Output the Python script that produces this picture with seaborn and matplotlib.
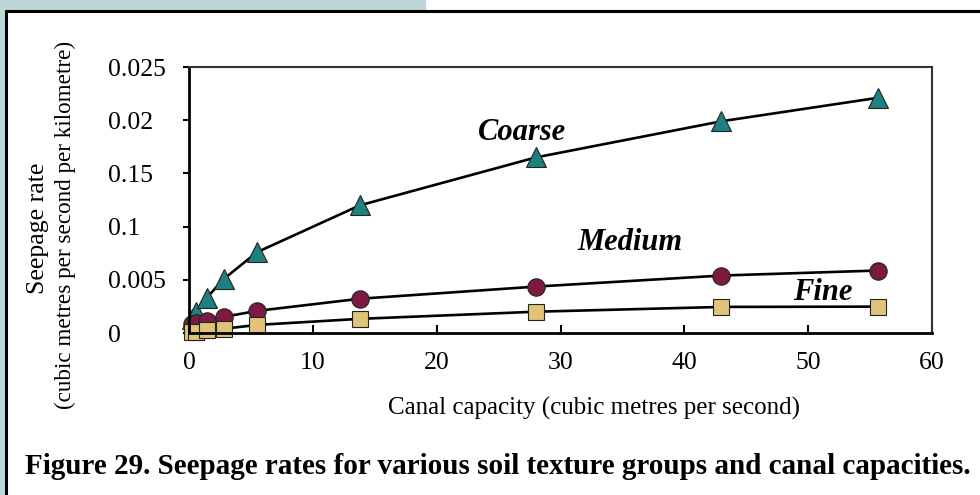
import numpy as np
import pandas as pd
import matplotlib
matplotlib.use("Agg")
import matplotlib.pyplot as plt
import seaborn as sns
from matplotlib.patches import Rectangle
from matplotlib.lines import Line2D

# Canal capacity (m3/s) and seepage rates
capacity = [0.28, 0.57, 1.42, 2.83, 5.5, 13.8, 28.0, 43.0, 55.6]
coarse = [0.0013, 0.0020, 0.0033, 0.0051, 0.0076, 0.0120, 0.0165, 0.0199, 0.0221]
medium = [0.00085, 0.00095, 0.00114, 0.00152, 0.00208, 0.00322, 0.00436, 0.0054, 0.00587]
fine = [0.00005, 0.0001, 0.0003, 0.0004, 0.00076, 0.00133, 0.0020, 0.00245, 0.00248]

x_ticks = [0, 10, 20, 30, 40, 50, 60]
y_ticks = [0, 0.005, 0.01, 0.015, 0.02, 0.025]
y_tick_labels = ["0", "0.005", "0.1", "0.15", "0.02", "0.025"]  # as printed in the original

df = pd.DataFrame({"capacity": capacity, "Coarse": coarse, "Medium": medium, "Fine": fine})

sns.set_theme(style="white")
plt.rcParams["font.family"] = ["Liberation Serif", "DejaVu Serif"]
plt.rcParams["text.color"] = "black"

fig = plt.figure(figsize=(9.8, 4.95), dpi=100)
ax = fig.add_axes([189 / 980, 1 - 333 / 495, (932 - 189) / 980, (333 - 67) / 495])

# page decoration: light band + black frame
light = "#bdd5d6"
fig.patches.append(Rectangle((0, 0), 5 / 980, 1, transform=fig.transFigure, color=light, zorder=0))
fig.patches.append(Rectangle((0, 1 - 10 / 495), 425 / 980, 10 / 495, transform=fig.transFigure,
                             color=light, zorder=0))
fig.lines.append(Line2D([6 / 980, 6 / 980], [0, 1 - 11 / 495], transform=fig.transFigure,
                        color="black", lw=2.2))
fig.lines.append(Line2D([6 / 980, 1], [1 - 11 / 495, 1 - 11 / 495], transform=fig.transFigure,
                        color="black", lw=2.2))

styles = [
    ("Coarse", "^", "#1f8080", 14),
    ("Medium", "o", "#7d1a42", 12.5),
    ("Fine", "s", "#e0c378", 12),
]
for name, mk, col, ms in styles:
    sns.lineplot(data=df, x="capacity", y=name, ax=ax, color="black", lw=1.9, sort=False,
                 marker=mk, markersize=ms, markerfacecolor=col, markeredgecolor="#222222",
                 markeredgewidth=0.8, clip_on=False)

ax.set_xlim(0, 60)
ax.set_ylim(0, 0.025)
ax.set_xticks(x_ticks)
ax.set_yticks(y_ticks)
ax.set_yticklabels(y_tick_labels)
ax.set_xlabel("")
ax.set_ylabel("")
ax.tick_params(axis="x", direction="in", length=6, width=1.5, labelsize=18.5, pad=14, colors="black")
ax.tick_params(axis="y", direction="out", length=4, width=1.5, labelsize=18.5, pad=54, colors="black")
for t in ax.get_yticklabels():
    t.set_horizontalalignment("left")
ax.xaxis.set_ticks_position("bottom")
ax.yaxis.set_ticks_position("left")
for side in ["left", "bottom"]:
    ax.spines[side].set_color("black")
    ax.spines[side].set_linewidth(2)
for side in ["top", "right"]:
    ax.spines[side].set_color("#333333")
    ax.spines[side].set_linewidth(1.5)

lab = dict(fontsize=22, fontweight="bold", fontstyle="italic", color="black")
ax.text(26.9, 0.0188, "Coarse", ha="center", va="center", **lab)
ax.text(35.6, 0.0085, "Medium", ha="center", va="center", **lab)
ax.text(51.2, 0.0038, "Fine", ha="center", va="center", **lab)

fig.text(38 / 980, 1 - 228 / 495, "Seepage rate", rotation=90, ha="center", va="center", fontsize=18.5)
fig.text(65 / 980, 1 - 225 / 495, "(cubic metres per second per kilometre)", rotation=90,
         ha="center", va="center", fontsize=16.7)
fig.text(594 / 980, 1 - 408 / 495, "Canal capacity (cubic metres per second)", ha="center",
         va="center", fontsize=18)
fig.text(498 / 980, 1 - 466 / 495,
         "Figure 29. Seepage rates for various soil texture groups and canal capacities.",
         ha="center", va="center", fontsize=21, fontweight="bold")

fig.savefig("out.png", dpi=100)
